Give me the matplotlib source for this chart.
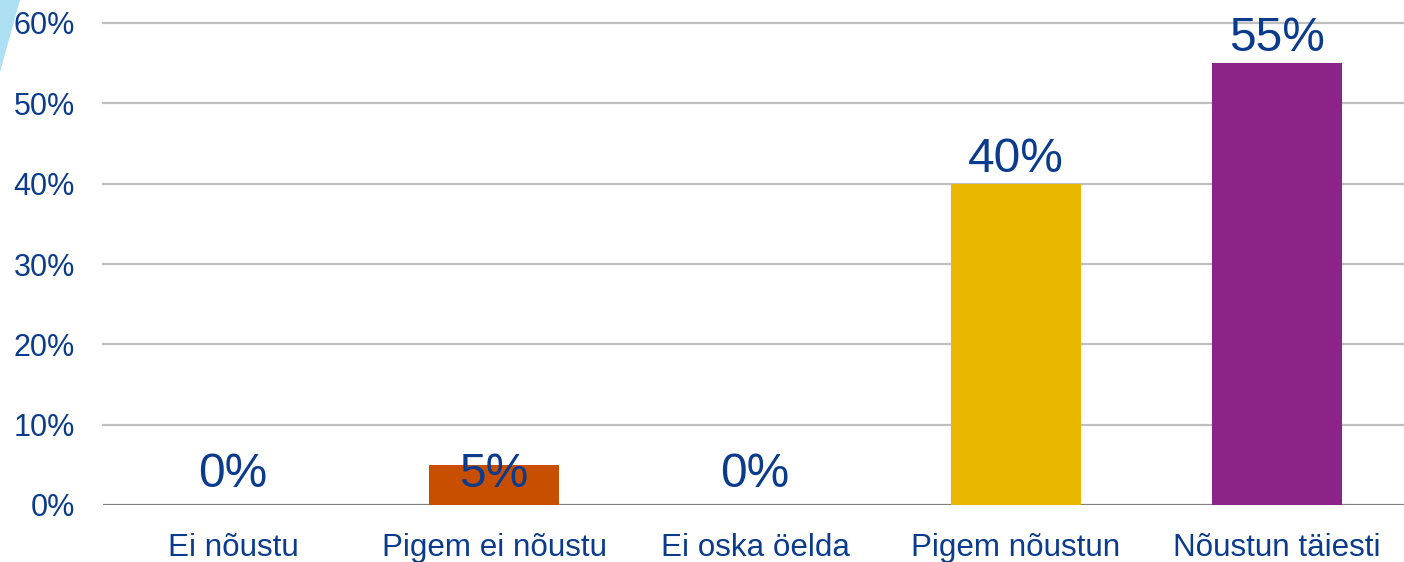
import matplotlib
matplotlib.use("Agg")
import matplotlib.pyplot as plt
from matplotlib.patches import Polygon

categories = ["Ei nõustu", "Pigem ei nõustu", "Ei oska öelda", "Pigem nõustun", "Nõustun täiesti"]
values = [0, 5, 0, 40, 55]
colors = ["#C84F00", "#C84F00", "#C84F00", "#EAB700", "#8B2486"]
yticks = [0, 10, 20, 30, 40, 50, 60]

TEXT = "#0B3B8C"
plt.rcParams["font.family"] = ["Liberation Sans", "DejaVu Sans"]

fig = plt.figure(figsize=(14.04, 5.62), dpi=100)
ax = fig.add_axes([102.5 / 1404, 57 / 562, 1305 / 1404, (505 - 23) / 562])

# light blue wedge in the top-left corner
fig.patches.append(Polygon([[0, 1], [20 / 1404, 1], [0, 1 - 72 / 562]],
                           closed=True, transform=fig.transFigure,
                           facecolor="#AEE0F3", edgecolor="none", zorder=0))

x = range(len(categories))
ax.bar(x, values, width=0.5, color=colors, zorder=3)

for xi, v in zip(x, values):
    y = v + 1.5 if v >= 10 else 2.2
    ax.text(xi, y, f"{v}%", ha="center", va="baseline", fontsize=34.5,
            color=TEXT, zorder=4, clip_on=False)

ax.set_xlim(-0.5, len(categories) - 0.5)
ax.set_ylim(0, 60)
ax.set_yticks(yticks)
ax.set_yticklabels([f"{t}%" for t in yticks])
ax.set_xticks(list(x))
ax.set_xticklabels(categories)
ax.tick_params(axis="both", length=0, labelsize=22, labelcolor=TEXT)
ax.tick_params(axis="x", labelsize=22.6, pad=20)
ax.tick_params(axis="y", pad=20)

for t in yticks[1:]:
    ax.axhline(t, color="#BFBFBF", linewidth=1.6, zorder=1, clip_on=False)
ax.axhline(0, color="#808080", linewidth=1.6, zorder=2)

for s in ax.spines.values():
    s.set_visible(False)
ax.patch.set_visible(False)

fig.savefig("out.png", dpi=100)
